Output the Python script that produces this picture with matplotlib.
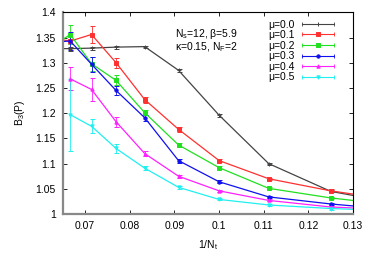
import matplotlib
matplotlib.use("Agg")
import matplotlib.pyplot as plt
from matplotlib.lines import Line2D
from matplotlib.legend_handler import HandlerBase
import numpy as np

plt.rcParams['font.family'] = ['Liberation Sans', 'DejaVu Sans']

# Temporal extents N_t (x = 1/N_t)
Nt = [16, 15, 14, 13, 12, 11, 10, 9, 8, 7]

mu_labels = ["μ=0.0", "μ=0.1", "μ=0.2", "μ=0.3", "μ=0.4", "μ=0.5"]

B3_mu00 = [1.328, 1.328, 1.329, 1.331, 1.332, 1.285, 1.196, 1.100, 1.045, 1.016]
B3_mu01 = [1.349, 1.343, 1.356, 1.300, 1.227, 1.168, 1.106, 1.070, 1.046, 1.023]
B3_mu02 = [1.332, 1.356, 1.298, 1.265, 1.201, 1.137, 1.092, 1.051, 1.032, 1.014]
B3_mu03 = [1.341, 1.343, 1.297, 1.245, 1.191, 1.106, 1.064, 1.034, 1.020, 1.006]
B3_mu04 = [np.nan, 1.268, 1.247, 1.183, 1.120, 1.075, 1.046, 1.027, 1.014, 1.007]
B3_mu05 = [np.nan, 1.197, 1.174, 1.130, 1.091, 1.053, 1.029, 1.018, 1.011, 1.005]

err_mu00 = [0.004, 0.004, 0.003, 0.003, 0.002, 0.003, 0.003, 0.002, 0.002, 0.002]
err_mu01 = [0.005, 0.005, 0.017, 0.010, 0.006, 0.005, 0.003, 0.002, 0.003, 0.002]
err_mu02 = [0.010, 0.019, 0.014, 0.010, 0.005, 0.004, 0.003, 0.002, 0.002, 0.002]
err_mu03 = [0.010, 0.018, 0.015, 0.008, 0.006, 0.004, 0.003, 0.002, 0.002, 0.002]
err_mu04 = [np.nan, 0.023, 0.022, 0.010, 0.005, 0.003, 0.002, 0.002, 0.002, 0.002]
err_mu05 = [np.nan, 0.071, 0.014, 0.008, 0.004, 0.003, 0.002, 0.002, 0.002, 0.002]

series = [B3_mu00, B3_mu01, B3_mu02, B3_mu03, B3_mu04, B3_mu05]
errors = [err_mu00, err_mu01, err_mu02, err_mu03, err_mu04, err_mu05]
colors = ['#444444', '#ff3030', '#20e020', '#1010ee', '#ff20ff', '#20f0f0']
markers = ['+', 's', 's', 'o', '^', 'v']
msizes = [3.0, 2.2, 2.6, 2.4, 2.4, 2.4]

x = 1.0 / np.array(Nt, dtype=float)


class HandlerErrKey(HandlerBase):
    """gnuplot-like key sample: line with end caps and a centred marker."""
    def create_artists(self, legend, orig_handle, xdescent, ydescent,
                       width, height, fontsize, trans):
        c = orig_handle.get_color()
        y = height / 2.0 - ydescent
        x0, x1 = -xdescent, -xdescent + width
        line = Line2D([x0, x1], [y, y], color=c, lw=0.8, transform=trans)
        caps = Line2D([x0, x1], [y, y], color=c, lw=0, marker='|',
                      ms=3.5, mew=0.6, transform=trans)
        mk = Line2D([(x0 + x1) / 2.0], [y], color=c, lw=0,
                    marker=orig_handle.get_marker(),
                    ms=orig_handle.get_markersize(), mew=0.7, transform=trans)
        return [line, caps, mk]


fig = plt.figure(figsize=(3.74, 2.62), dpi=100)
ax = fig.add_axes([0.168, 0.183, 0.776, 0.770])

handles = []
for ys, es, c, m, ms, lab in zip(series, errors, colors, markers, msizes, mu_labels):
    ys = np.array(ys, dtype=float)
    es = np.array(es, dtype=float)
    ok = ~np.isnan(ys)
    ax.errorbar(x[ok], ys[ok], yerr=es[ok], color=c, lw=0.9, marker=m,
                ms=ms, mew=0.7, capsize=1.8, elinewidth=0.6, capthick=0.6,
                ecolor=c, clip_on=True)
    handles.append(Line2D([], [], color=c, marker=m, ms=ms))

ax.set_xlim(0.065, 0.13)
ax.set_ylim(1.0, 1.4)
xt = [0.07, 0.08, 0.09, 0.10, 0.11, 0.12, 0.13]
yt = [1.0, 1.05, 1.1, 1.15, 1.2, 1.25, 1.3, 1.35, 1.4]
ax.set_xticks(xt)
ax.set_xticklabels(['%g' % v for v in xt])
ax.set_yticks(yt)
ax.set_yticklabels(['%g' % v for v in yt])
ax.tick_params(direction='in', length=3, width=0.6, labelsize=7.5,
               top=True, right=True, pad=5)
for s in ['left', 'bottom']:
    ax.spines[s].set_color('#888888')
    ax.spines[s].set_linewidth(1.6)
for s in ['top', 'right']:
    ax.spines[s].set_color('black')
    ax.spines[s].set_linewidth(0.8)

ax.set_xlabel('1/N$_\\mathregular{t}$', fontsize=7.5, labelpad=5)
ax.set_ylabel('B$_\\mathregular{3}$(P)', fontsize=7.5, labelpad=6)

ax.text(0.0902, 1.344, 'N$_\\mathregular{s}$=12, β=5.9\nκ=0.15, N$_\\mathregular{F}$=2',
        fontsize=7.5, va='center', ha='left', linespacing=1.0)

leg = ax.legend(handles, mu_labels,
                handler_map={Line2D: HandlerErrKey()},
                loc='upper right', bbox_to_anchor=(0.958, 1.0), frameon=False,
                markerfirst=False, fontsize=7.5, handlelength=3.0,
                handletextpad=0.7, labelspacing=0.05, borderaxespad=0.3)

fig.savefig('out.png', dpi=100)
